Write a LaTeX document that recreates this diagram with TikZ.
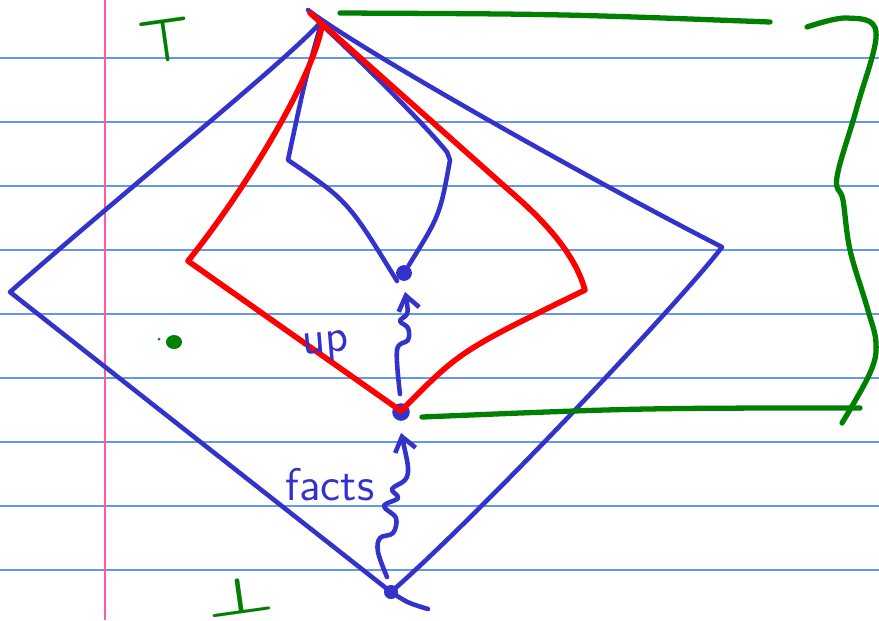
\documentclass[tikz,border=0pt]{standalone}
\usepackage{tikz}
\usetikzlibrary{arrows.meta}
\definecolor{penblue}{RGB}{51, 51, 204}
\definecolor{penred}{RGB}{255, 0, 0}
\definecolor{pengreen}{RGB}{0, 128, 0}
\definecolor{ruleblue}{RGB}{100, 150, 235}
\definecolor{marginpink}{RGB}{255, 90, 170}

\begin{document}
\begin{tikzpicture}[
  x=0.01cm, y=-0.01cm,
  ruled/.style={draw=ruleblue, line width=0.45pt},
  margin/.style={draw=marginpink, line width=0.6pt},
  bluepen/.style={draw=penblue, line width=1.3pt, line cap=round, line join=round},
  redpen/.style={draw=penred, line width=1.6pt, line cap=round, line join=round},
  greenpen/.style={draw=pengreen, line width=1.5pt, line cap=round, line join=round},
  dot/.style={circle, fill=penblue, inner sep=0pt, minimum size=#1},
  dot/.default=4.5pt,
  squiggle/.style={bluepen, -{Straight Barb[length=4pt, width=6pt]}},
  label/.style={font=\fontsize{13}{15}\selectfont\sffamily, text=penblue},
  symb/.style={text=pengreen, inner sep=0pt, rotate=8}
]

% Paper
\useasboundingbox (0,0) rectangle (879,620);
\fill[white] (0,0) rectangle (879,620);
\foreach \y in {58,122,...,570}
  \draw[ruled] (0,\y) -- (879,\y);
\draw[margin] (105,0) -- (105,620);

% Outer diamond
\coordinate (otip) at (308,10);
\coordinate (otop) at (319,24);
\coordinate (oleft) at (10,292);
\coordinate (oright) at (722,247);
\coordinate (obot) at (391,592);
\coordinate (otail) at (428,609);
\draw[bluepen] (otop) .. controls (285,62) and (120,195) .. (oleft) -- (obot) .. controls (408,603) .. (otail);
\draw[bluepen] (otip) .. controls (360,50) and (600,185) .. (oright) .. controls (692,288) and (490,505) .. (obot);

% Inner diamond
\coordinate (itop) at (321,24);
\coordinate (ileft) at (288,160);
\coordinate (iright) at (450,160);
\coordinate (iend) at (397,281);
\draw[bluepen] (itop) .. controls (305,80) .. (ileft) .. controls (348,201) .. (iend);
\node[dot] (idot) at (404,273) {};
\draw[bluepen] (itop) .. controls (370,70) and (425,125) .. (447,152) -- (iright) .. controls (440,215) .. (idot);

% Dots
\node[dot=5pt] (mdot) at (401,412) {};
\node[dot=4pt] (bdot) at (391,592) {};

% Red diamond
\coordinate (rtop) at (310,13);
\coordinate (rjoin) at (322,26);
\coordinate (rleft) at (188,261);
\coordinate (rright) at (585,290);
\coordinate (rbot) at (401,411);
\draw[redpen] (rtop) -- (520,200) .. controls (560,236) and (578,265) .. (rright)
  .. controls (460,351) .. (rbot) -- (rleft) .. controls (245,190) and (312,80) .. (rjoin);

% Squiggly arrows
\draw[squiggle] plot[smooth, tension=0.6] coordinates {(400,394) (397,350) (408,340) (408,328) (400,321) (407,314) (407,303) (405,292)};
\draw[squiggle] plot[smooth, tension=0.6] coordinates {(387,577) (378,552) (380,538) (393,533) (396,518) (384,506) (398,498) (392,489) (405,480) (408,468) (404,446) (401,433)};

% Labels
\node[label, rotate=5] (up) at (326,347) {up};
\node[label] (facts) at (330,485) {facts};

% Green marks
\node[symb, font=\fontsize{18}{20}\selectfont\boldmath] (topsym) at (165,41) {$\top$};
\node[symb, font=\fontsize{15}{17}\selectfont\boldmath] (botsym) at (240,596) {\scalebox{1.5}[1]{$\bot$}};
\coordinate (gtopl) at (340,13);
\coordinate (gtopr) at (770,22);
\draw[greenpen] (gtopl) .. controls (560,14) .. (gtopr);
\coordinate (gmidl) at (422,417);
\coordinate (gmidr) at (860,408);
\draw[greenpen] (gmidl) .. controls (640,408) .. (gmidr);
\draw[greenpen] plot[smooth, tension=0.6] coordinates {(807,27) (847,18) (876,32) (857,107) (837,177) (843,200) (850,250) (867,307) (876,343) (870,373) (842,423)};
\fill[pengreen] (174,342) ellipse [x radius=8, y radius=7];
\fill[pengreen] (159,339) circle [radius=1.5];

\end{tikzpicture}
\end{document}
